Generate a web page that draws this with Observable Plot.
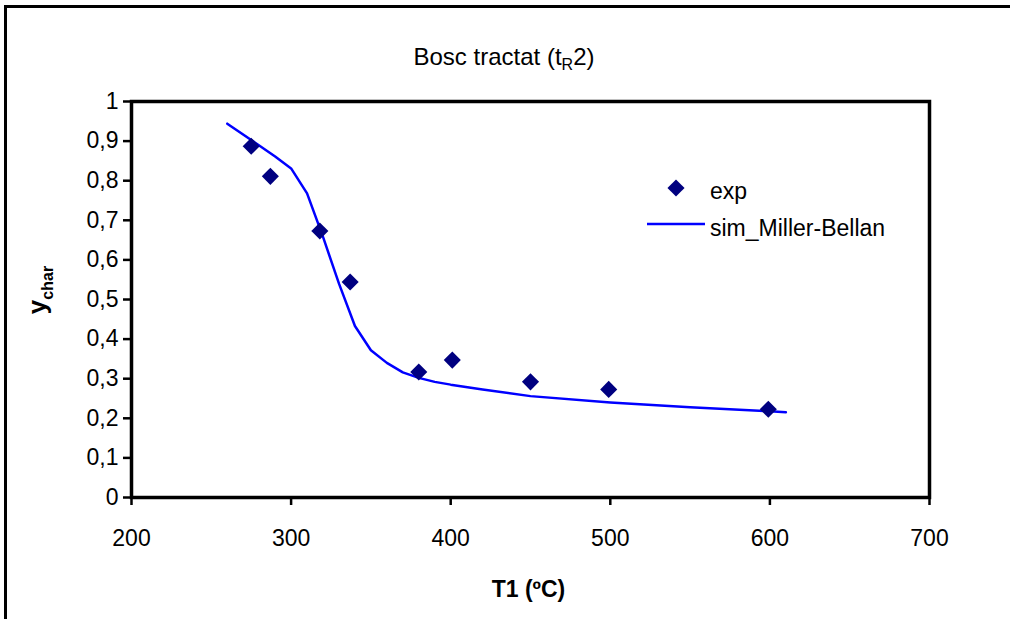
<!DOCTYPE html>
<html>
<head>
<meta charset="utf-8">
<script src="https://cdn.jsdelivr.net/npm/d3@7"></script>
<script src="https://cdn.jsdelivr.net/npm/@observablehq/plot@0.6"></script>
<style>
  body { margin: 0; background: #fff; }
  #wrap { position: relative; width: 1010px; height: 619px; overflow: hidden;
          font-family: "Liberation Sans", Arial, sans-serif; background: #fff; }
  #border { position: absolute; left: 4px; top: 5px; width: 1100px; height: 700px;
            border-left: 3px solid #000; border-top: 3px solid #000; }
  #chart, #overlay { position: absolute; left: 0; top: 0; }
</style>
</head>
<body>
<div id="wrap">
  <div id="border"></div>
  <div id="chart"></div>
  <svg id="overlay" width="1010" height="619" font-family="Liberation Sans, Arial, sans-serif" fill="#000">
    <text x="504" y="65" text-anchor="middle" font-size="24">Bosc tractat (t<tspan font-size="16" dy="5">R</tspan><tspan dy="-5">2)</tspan></text>
    <text transform="translate(46,290) rotate(-90)" text-anchor="middle" font-size="26" font-weight="bold">y<tspan font-size="16" dy="7">char</tspan></text>
    <text x="528.5" y="597" text-anchor="middle" font-size="23" font-weight="bold">T1 (ºC)</text>
    <g id="legend" font-size="23"></g>
  </svg>
</div>
<script>
// Experimental char yield measurements
const expT = [275, 287, 318, 337, 380, 401, 450, 499, 599];
const expY = [0.887, 0.811, 0.673, 0.544, 0.317, 0.347, 0.292, 0.273, 0.223];

// Simulated curve (Miller-Bellan model)
const simT = [260, 280, 290, 300, 310, 320, 330, 340, 350, 360, 370, 380, 390, 400, 420, 450, 500, 550, 600, 610];
const simY = [0.944, 0.889, 0.861, 0.831, 0.768, 0.658, 0.540, 0.433, 0.372, 0.340, 0.316, 0.302, 0.292, 0.285, 0.273, 0.256, 0.240, 0.228, 0.218, 0.215];

// Axis ticks
const xTicks = [200, 300, 400, 500, 600, 700];
const yTicks = [0, 0.1, 0.2, 0.3, 0.4, 0.5, 0.6, 0.7, 0.8, 0.9, 1];

const expData = expT.map((t, i) => ({t, y: expY[i]}));
const simData = simT.map((t, i) => ({t, y: simY[i]}));

const expColor = "#000080";
const simColor = "#0000ff";

const chart = Plot.plot({
  width: 1010,
  height: 619,
  marginLeft: 131,
  marginRight: 81,
  marginTop: 101,
  marginBottom: 122,
  style: {fontFamily: "Liberation Sans, Arial, sans-serif", fontSize: "23px", color: "#000", background: "transparent"},
  x: {domain: [200, 700]},
  y: {domain: [0, 1]},
  marks: [
    Plot.axisX({ticks: xTicks, tickSize: 8, tickPadding: 24, strokeWidth: 2.5, label: null, tickFormat: d => String(d)}),
    Plot.axisY({ticks: yTicks, tickSize: 8, tickPadding: 5, strokeWidth: 2.5, label: null,
                tickFormat: d => String(d).replace(".", ",")}),
    Plot.line(simData, {x: "t", y: "y", stroke: simColor, strokeWidth: 2.5}),
    Plot.dot(expData, {x: "t", y: "y", symbol: "diamond2", r: 7.7, fill: expColor, stroke: "none"}),
    Plot.frame({stroke: "#000", strokeWidth: 3.5})
  ]
});
document.getElementById("chart").append(chart);

// Legend
const ns = "http://www.w3.org/2000/svg";
const lg = document.getElementById("legend");
const mk = (tag, attrs, txt) => {
  const el = document.createElementNS(ns, tag);
  for (const k in attrs) el.setAttribute(k, attrs[k]);
  if (txt) el.textContent = txt;
  lg.append(el);
};
mk("path", {d: d3.symbol(d3.symbolDiamond2, Math.PI * 7.7 * 7.7)(), transform: "translate(676,188)", fill: expColor});
mk("text", {x: 710, y: 199}, "exp");
mk("line", {x1: 647, x2: 705, y1: 224, y2: 224, stroke: simColor, "stroke-width": 2.5});
mk("text", {x: 710, y: 236}, "sim_Miller-Bellan");
</script>
</body>
</html>
